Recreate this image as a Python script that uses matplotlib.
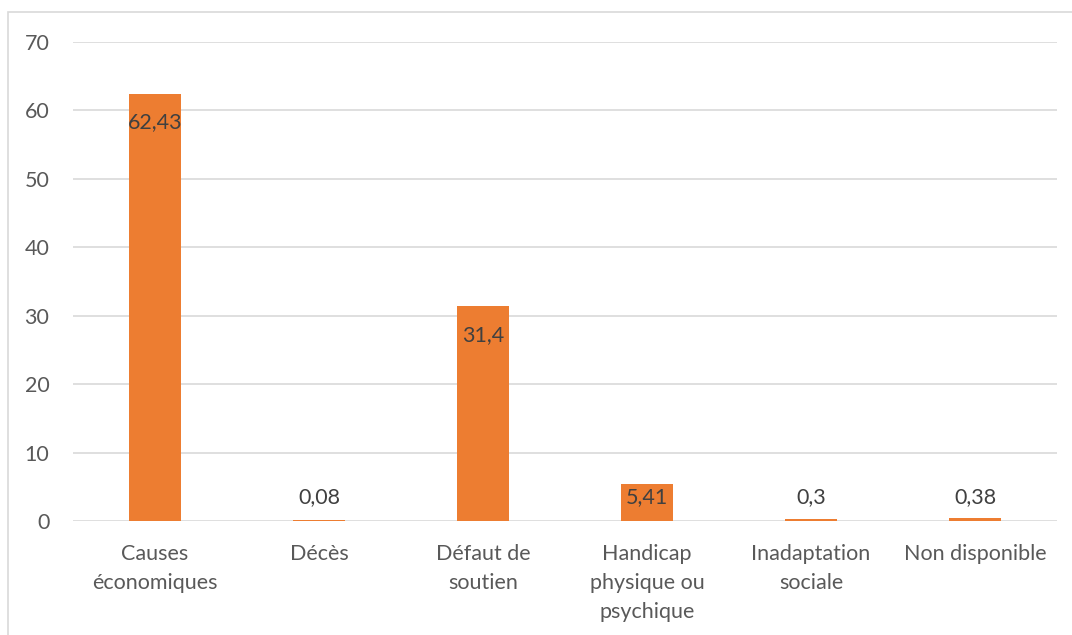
import matplotlib.pyplot as plt
from matplotlib.patches import Rectangle

categories = ['Causes\néconomiques', 'Décès', 'Défaut de\nsoutien',
              'Handicap\nphysique ou\npsychique', 'Inadaptation\nsociale', 'Non disponible']
values = [62.43, 0.08, 31.4, 5.41, 0.3, 0.38]
labels = ['62,43', '0,08', '31,4', '5,41', '0,3', '0,38']

plt.rcParams['font.family'] = ['Lato', 'DejaVu Sans']

fig = plt.figure(figsize=(10.72, 6.35), dpi=100)
ax = fig.add_axes([0.068, 0.1795, 0.918, 0.7543])

x = range(len(categories))
ax.bar(x, values, width=0.32, color='#ED7D31', zorder=2)

# data labels: inside end, pushed up when the bar is too short
for i, v in enumerate(values):
    y = max(v - 4.2, 3.5)
    ax.text(i, y, labels[i], ha='center', va='center', fontsize=15.5, color='#404040', zorder=3)

ax.set_xlim(-0.5, 5.5)
ax.set_ylim(0, 70)
ax.set_yticks(range(0, 71, 10))
ax.set_xticks(list(x))
ax.set_xticklabels(categories, linespacing=1.55)
ax.tick_params(axis='both', length=0, labelsize=15.5, labelcolor='#595959')
ax.tick_params(axis='y', pad=17)
ax.tick_params(axis='x', pad=16.5)
ax.grid(axis='y', color='#D9D9D9', linewidth=1.2, zorder=0)
ax.set_axisbelow(True)
for s in ax.spines.values():
    s.set_visible(False)

fig.patches.append(Rectangle((8 / 1072, -0.05), 1.2, 1 - 12 / 635 + 0.05, transform=fig.transFigure,
                             fill=False, edgecolor='#D9D9D9', linewidth=1.2))

fig.savefig('out.png', dpi=100)
